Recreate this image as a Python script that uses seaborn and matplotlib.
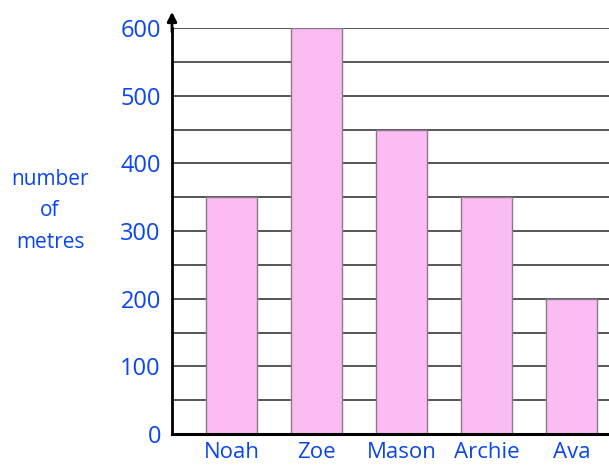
import matplotlib
matplotlib.use("Agg")
import matplotlib.pyplot as plt
import seaborn as sns
import pandas as pd

names = ["Noah", "Zoe", "Mason", "Archie", "Ava"]
metres = [350, 600, 450, 350, 200]
yticks = [0, 100, 200, 300, 400, 500, 600]

sns.set_style("white")
plt.rcParams['font.family'] = ['Open Sans', 'DejaVu Sans']

blue = "#0A46F0"
pink = "#FBBBF3"

df = pd.DataFrame({"name": names, "metres": metres})

fig = plt.figure(figsize=(6.09, 4.66), dpi=100)
ax = fig.add_axes([172/609, 32/466, 1 - 172/609, (434-28)/466])

for v in range(50, 601, 50):
    ax.axhline(v, color="#3a3a3a", lw=1.2, zorder=0)

sns.barplot(data=df, x="name", y="metres", color=pink, width=0.6,
            edgecolor="#8a7a8a", linewidth=1.0, saturation=1, ax=ax, zorder=2)

ax.set_xlim(-0.7, 4.44)
ax.set_ylim(0, 600)
ax.set_yticks(yticks)
ax.set_yticklabels([str(t) for t in yticks], color=blue, fontsize=17)
ax.set_xticks(range(len(names)))
ax.set_xticklabels(names, color=blue, fontsize=16)
ax.tick_params(axis="x", length=0, pad=6)
ax.tick_params(axis="y", length=0, pad=8)
ax.set_xlabel("")
ax.set_ylabel("")

for s in ["top", "right"]:
    ax.spines[s].set_visible(False)
ax.spines["left"].set_color("black")
ax.spines["left"].set_linewidth(2)
ax.spines["bottom"].set_color("black")
ax.spines["bottom"].set_linewidth(2.2)
ax.spines["left"].set_zorder(5)
ax.spines["bottom"].set_zorder(5)

ax.annotate("", xy=(-0.7, 628), xytext=(-0.7, 590),
            arrowprops=dict(arrowstyle="-|>", color="black", lw=2, mutation_scale=14),
            annotation_clip=False, zorder=6)

fig.text(50/609, 1 - 211/466, "number\nof\nmetres", color=blue, fontsize=15,
         ha="center", va="center", linespacing=1.65)

fig.savefig("out.png", dpi=100)
